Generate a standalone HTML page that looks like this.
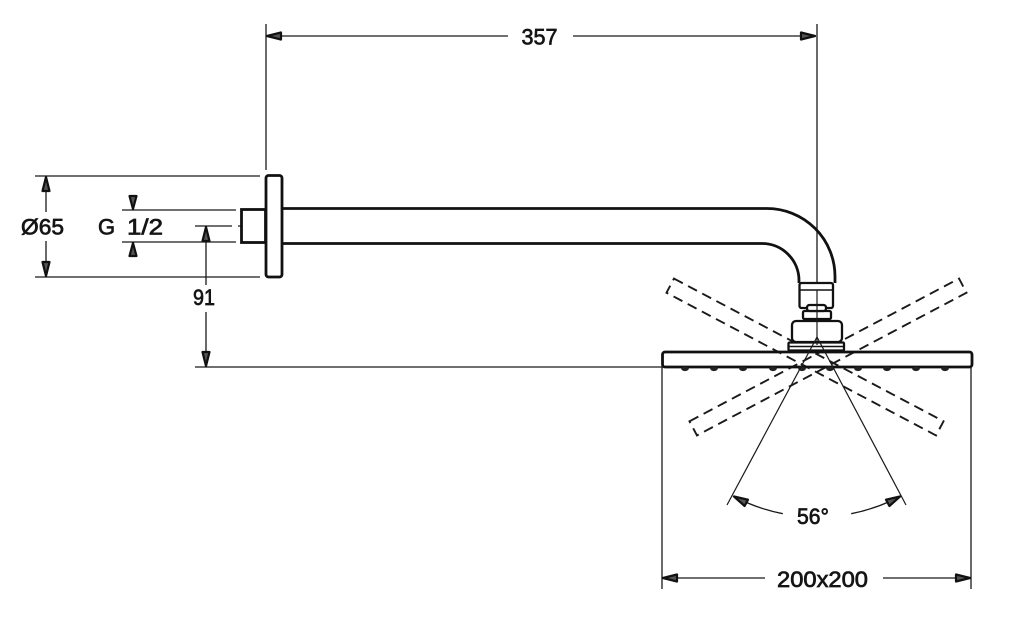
<!DOCTYPE html>
<html><head><meta charset="utf-8"><style>
html,body{margin:0;padding:0;background:#fff;}
svg{display:block;}
text{font-family:"Liberation Sans",sans-serif;font-size:22px;fill:#151515;stroke:#151515;stroke-width:0.7px;}
</style></head><body>
<svg width="1024" height="623" viewBox="0 0 1024 623" xmlns="http://www.w3.org/2000/svg">
<rect width="1024" height="623" fill="#fff"/>
<g stroke="#1a1a1a" stroke-width="1.3" fill="none">
  <!-- 357 dimension -->
  <line x1="266" y1="24" x2="266" y2="170"/>
  <line x1="817" y1="24" x2="817" y2="345"/>
  <line x1="266" y1="36" x2="508" y2="36"/>
  <line x1="573" y1="36" x2="816" y2="36"/>
  <!-- Ø65 -->
  <line x1="35" y1="176" x2="260" y2="176"/>
  <line x1="35" y1="277" x2="260" y2="277"/>
  <line x1="46" y1="176" x2="46" y2="212"/>
  <line x1="46" y1="241" x2="46" y2="277"/>
  <!-- G 1/2 -->
  <line x1="122" y1="210" x2="236" y2="210"/>
  <line x1="122" y1="242" x2="236" y2="242"/>
  <!-- center line -->
  <line x1="195" y1="226" x2="232" y2="226"/>
  <line x1="238" y1="226" x2="283" y2="226"/>
  <!-- 91 -->
  <line x1="206" y1="226" x2="206" y2="285"/>
  <line x1="206" y1="312" x2="206" y2="367"/>
  <line x1="195" y1="367" x2="662" y2="367"/>
  <!-- 200x200 -->
  <line x1="662" y1="367" x2="662" y2="589"/>
  <line x1="971" y1="367" x2="971" y2="589"/>
  <line x1="662" y1="578" x2="765" y2="578"/>
  <line x1="883" y1="578" x2="971" y2="578"/>
  <!-- spray angle arc -->
  <path d="M733,496 A179,179 0 0 0 782.8,513.7"/>
  <path d="M851.2,513.7 A179,179 0 0 0 901,496"/>
</g>

<!-- dashed rotated rectangles -->
<g stroke="#1a1a1a" stroke-width="1.9" fill="none" stroke-dasharray="10 6">
  <rect x="-152.5" y="-8" width="305" height="16" transform="translate(805 357) rotate(27.9)"/>
  <rect x="-152.5" y="-8" width="305" height="16" transform="translate(828 357) rotate(-27.9)"/>
</g>

<!-- flange & nipple -->
<g stroke="#111" stroke-width="2.8" fill="#fff">
  <rect x="241.5" y="209.5" width="24" height="33" />
  <rect x="266" y="175.5" width="16" height="101.5" rx="2.5"/>
</g>
<!-- arm -->
<g stroke="#111" stroke-width="2.8" fill="none">
  <path d="M282,208.5 H767 A68,68 0 0 1 835,276.5 V283"/>
  <path d="M282,243.5 H762 A37,37 0 0 1 799,280.5 V283"/>
</g>
<!-- connector -->
<g stroke="#111" stroke-width="2.3" fill="#fff">
  <rect x="799.5" y="283" width="33.5" height="25" rx="2"/>
  <rect x="803" y="311" width="28" height="8" rx="1.5"/>
  <rect x="807" y="305" width="19" height="6" rx="2.5"/>
  <rect x="792" y="321" width="50" height="21" rx="4"/>
  <rect x="788.5" y="342.5" width="55.5" height="8" rx="1"/>
</g>
<g stroke="#111" stroke-width="1.6" fill="none">
  <line x1="800" y1="290" x2="833" y2="290"/>
  <line x1="789" y1="346.5" x2="844" y2="346.5"/>
</g>
<!-- plate -->
<rect x="662.5" y="352" width="309.5" height="15" rx="2.5" fill="none" stroke="#111" stroke-width="2.8"/>
<!-- nozzles -->
<g fill="#222">
  <ellipse cx="685" cy="368.8" rx="3.8" ry="2.3"/>
  <ellipse cx="714" cy="368.8" rx="3.8" ry="2.3"/>
  <ellipse cx="743" cy="368.8" rx="3.8" ry="2.3"/>
  <ellipse cx="773" cy="368.8" rx="3.8" ry="2.3"/>
  <ellipse cx="802" cy="368.8" rx="3.8" ry="2.3"/>
  <ellipse cx="830" cy="368.8" rx="3.8" ry="2.3"/>
  <ellipse cx="858" cy="368.8" rx="3.8" ry="2.3"/>
  <ellipse cx="887" cy="368.8" rx="3.8" ry="2.3"/>
  <ellipse cx="916" cy="368.8" rx="3.8" ry="2.3"/>
  <ellipse cx="945" cy="368.8" rx="3.8" ry="2.3"/>
</g>
<!-- spray lines -->
<g stroke="#1a1a1a" stroke-width="1.2" fill="none">
  <line x1="817" y1="337" x2="727" y2="505"/>
  <line x1="817" y1="337" x2="906" y2="505"/>
  <line x1="817" y1="290" x2="817" y2="345"/>
</g>

<!-- arrowheads -->
<g stroke="#111" stroke-width="2.2" fill="#555" stroke-linejoin="round">
  <polygon points="267,36 281,32.5 281,39.5"/>
  <polygon points="815,36 801,32.5 801,39.5"/>
  <polygon points="46,177 42.5,191 49.5,191"/>
  <polygon points="46,276 42.5,262 49.5,262"/>
  <polygon points="133,209 129.5,196 136.5,196"/>
  <polygon points="133,243 129.5,256 136.5,256"/>
  <polygon points="206,227 202.5,241 209.5,241"/>
  <polygon points="206,366 202.5,352 209.5,352"/>
  <polygon points="663,578 677,574.5 677,581.5"/>
  <polygon points="970,578 956,574.5 956,581.5"/>
  <polygon points="734,496.5 748,499.7 744.6,506"/>
  <polygon points="900,496.5 886,499.7 889.4,506"/>
</g>

<!-- labels -->
<text x="521.5" y="44.5" textLength="36" lengthAdjust="spacingAndGlyphs">357</text>
<text x="21" y="234.5" textLength="43" lengthAdjust="spacingAndGlyphs">Ø65</text>
<text x="98" y="234.5">G</text>
<text x="127" y="234.5" textLength="36" lengthAdjust="spacingAndGlyphs">1/2</text>
<text x="193" y="305" textLength="22" lengthAdjust="spacingAndGlyphs">91</text>
<text x="797" y="524" textLength="32" lengthAdjust="spacingAndGlyphs">56°</text>
<text x="777" y="587" textLength="91" lengthAdjust="spacingAndGlyphs">200x200</text>
</svg>
</body></html>
